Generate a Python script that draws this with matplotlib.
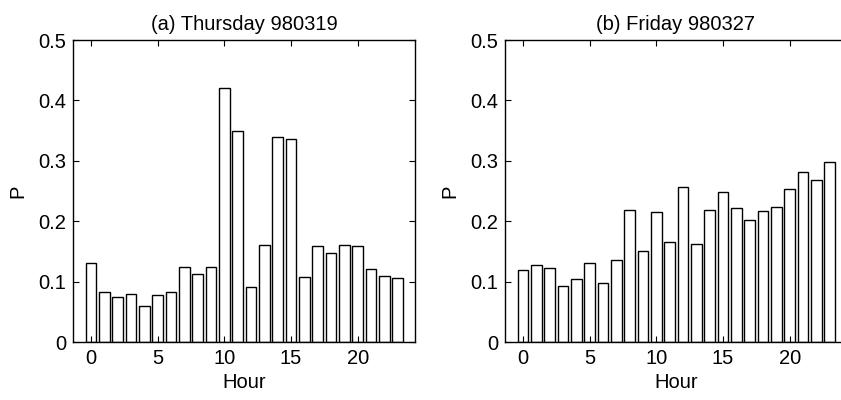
import matplotlib
matplotlib.use("Agg")
import matplotlib.pyplot as plt
import numpy as np

plt.rcParams['font.family'] = ['Liberation Sans', 'DejaVu Sans']

hours = list(range(24))
thursday = [0.130, 0.082, 0.075, 0.080, 0.060, 0.077, 0.083, 0.124, 0.112, 0.124,
            0.420, 0.350, 0.091, 0.160, 0.340, 0.336, 0.108, 0.159, 0.148, 0.160,
            0.159, 0.121, 0.109, 0.106]
friday = [0.120, 0.128, 0.122, 0.092, 0.105, 0.131, 0.097, 0.136, 0.218, 0.151,
          0.216, 0.166, 0.257, 0.162, 0.218, 0.248, 0.222, 0.202, 0.217, 0.223,
          0.253, 0.282, 0.268, 0.298]
titles = ['(a) Thursday 980319', '(b) Friday 980327']
xticks = [0, 5, 10, 15, 20]
yticks = [0, 0.1, 0.2, 0.3, 0.4, 0.5]
yticklabels = ['0', '0.1', '0.2', '0.3', '0.4', '0.5']

fig = plt.figure(figsize=(8.41, 4.0), dpi=100)
W, H = 841, 400
positions = [(73, 40, 342, 302), (505, 40, 342, 302)]
FS = 14.5

for (x0, y0, w, h), data, title in zip(positions, [thursday, friday], titles):
    ax = fig.add_axes([x0 / W, 1 - (y0 + h) / H, w / W, h / H])
    ax.bar(hours, data, width=0.8, color='white', edgecolor='black', linewidth=1.0)
    ax.set_xlim(-1.35, 24.3)
    ax.set_ylim(0, 0.5)
    ax.set_xticks(xticks)
    ax.set_yticks(yticks)
    ax.set_yticklabels(yticklabels)
    ax.tick_params(direction='in', top=True, right=True, length=4, width=0.8,
                   labelsize=FS, pad=5)
    for s in ax.spines.values():
        s.set_linewidth(1.0)
    ax.set_title(title, fontsize=FS, pad=7)
    ax.set_xlabel('Hour', fontsize=FS, labelpad=4)
    ax.set_ylabel('P', fontsize=FS, labelpad=8)

fig.savefig('out.png', dpi=100)
